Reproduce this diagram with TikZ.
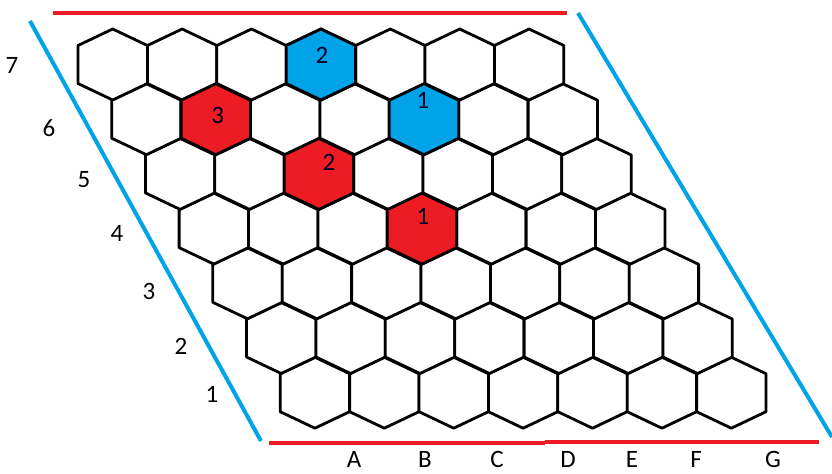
\documentclass[tikz,border=0pt]{standalone}
\usepackage{fontspec}
\setmainfont{Carlito}
\definecolor{hexred}{HTML}{ED1C24}
\definecolor{hexblue}{HTML}{00A2E8}

\begin{document}
\begin{tikzpicture}[x=0.5pt, y=-0.5pt,
    cell/.style={draw=black, line width=1.4pt, line join=round, fill=white},
    side/.style={line width=2pt},
    lbl/.style={font=\fontsize{12.5}{14}\selectfont, inner sep=0pt},
    num/.style={font=\fontsize{12.5}{14}\selectfont, inner sep=0pt, text=black!85!blue},
  ]
    % Cell geometry (pixel units, y down)
    \def\hexW{34.7}     % half width
    \def\hexS{19}       % half vertical side
    \def\hexT{35.5}     % center to top vertex
    \def\colstep{69.4}  % next cell in a row
    \def\rowshift{33.7} % each lower row moves right
    \def\rowstep{54.7}  % row to row

    \useasboundingbox (0,0) rectangle (832,473);

    % === Board (rows 7 top .. 1 bottom, columns A..G) ===
    \foreach \r in {1,...,7} {
      \foreach \c in {1,...,7} {
        \pgfmathsetmacro\x{112.7+\colstep*(\c-1)+\rowshift*(7-\r)}
        \pgfmathsetmacro\y{64.5+\rowstep*(7-\r)}
        \coordinate (h\c\r) at (\x,\y);
        \draw[cell] (\x,\y-\hexT) -- (\x+\hexW,\y-\hexS) -- (\x+\hexW,\y+\hexS)
          -- (\x,\y+\hexT) -- (\x-\hexW,\y+\hexS) -- (\x-\hexW,\y-\hexS) -- cycle;
      }
    }

    % === Played cells ===
    \foreach \c/\r/\col/\n/\ox/\oy in {4/7/hexblue/2/1/-9, 5/6/hexblue/1/-1/-19,
        2/6/hexred/3/2/-4, 3/5/hexred/2/10/-12, 4/4/hexred/1/1/-12} {
      \pgfmathsetmacro\x{112.7+\colstep*(\c-1)+\rowshift*(7-\r)}
      \pgfmathsetmacro\y{64.5+\rowstep*(7-\r)}
      \draw[cell, fill=\col] (\x,\y-\hexT) -- (\x+\hexW,\y-\hexS) -- (\x+\hexW,\y+\hexS)
        -- (\x,\y+\hexT) -- (\x-\hexW,\y+\hexS) -- (\x-\hexW,\y-\hexS) -- cycle;
      \node[num] (m\c\r) at (\x+\ox,\y+\oy) {\n};
    }

    % === Row numbers ===
    \foreach \r/\x/\y in {7/12/65, 6/49/128, 5/84/180, 4/117/233, 3/149/291, 2/181/346, 1/212/394}
      \node[lbl] (row\r) at (\x,\y) {\r};

    % === Column letters ===
    \foreach \l/\x in {A/354, B/425, C/497, D/568, E/632, F/696, G/773}
      \node[lbl] (col\l) at (\x,459) {\l};

    % === Sides ===
    \coordinate (rt0) at (53,13);   \coordinate (rt1) at (567,13);
    \coordinate (rb0) at (269,443); \coordinate (rb1) at (545,443);
    \coordinate (rb2) at (545,441.5); \coordinate (rb3) at (819,441.5);
    \coordinate (bl0) at (30,21);   \coordinate (bl1) at (261,441);
    \coordinate (br0) at (578,13);  \coordinate (br1) at (832,437);
    \draw[side, hexred] (rt0) -- (rt1);
    \draw[side, hexred] (rb0) -- (rb1);
    \draw[side, hexred] (rb2) -- (rb3);
    \draw[side, hexblue] (bl0) -- (bl1);
    \draw[side, hexblue] (br0) -- (br1);
  \end{tikzpicture}
\end{document}
